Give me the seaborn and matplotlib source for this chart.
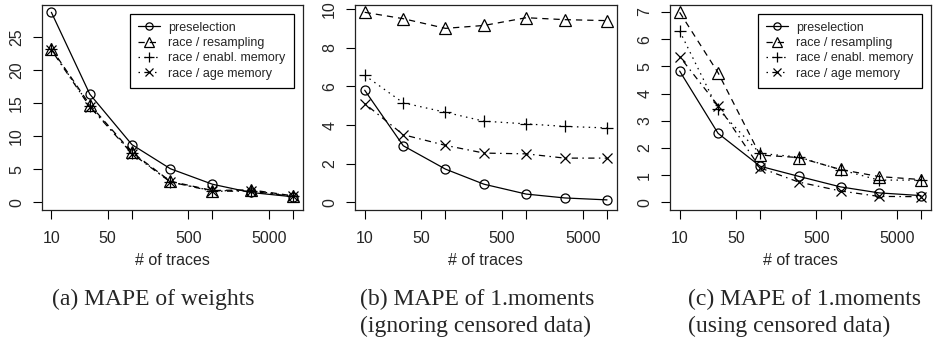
import numpy as np
import pandas as pd
import matplotlib
matplotlib.use('Agg')
import matplotlib.pyplot as plt
import seaborn as sns

# --- DATA ---
traces = [10, 30, 100, 300, 1000, 3000, 10000]
series_names = ['preselection', 'race / resampling', 'race / enabl. memory', 'race / age memory']

# (a) MAPE of weights
weights_presel = [28.8, 16.4, 8.75, 5.1, 2.75, 1.5, 0.85]
weights_resamp = [23.3, 14.8, 7.6, 3.2, 1.8, 1.9, 1.0]
weights_enabl = [23.2, 14.6, 7.5, 3.1, 1.75, 1.8, 0.95]
weights_age = [23.1, 14.5, 7.4, 3.1, 1.7, 1.7, 0.9]

# (b) MAPE of 1.moments, ignoring censored data
ign_presel = [5.8, 2.93, 1.72, 0.94, 0.43, 0.23, 0.13]
ign_resamp = [9.83, 9.5, 9.0, 9.15, 9.55, 9.45, 9.4]
ign_enabl = [6.57, 5.15, 4.66, 4.2, 4.06, 3.93, 3.85]
ign_age = [5.11, 3.5, 2.95, 2.55, 2.51, 2.29, 2.29]

# (c) MAPE of 1.moments, using censored data
use_presel = [4.83, 2.54, 1.33, 0.96, 0.57, 0.35, 0.25]
use_resamp = [6.99, 4.77, 1.74, 1.65, 1.21, 0.95, 0.84]
use_enabl = [6.3, 3.43, 1.8, 1.67, 1.2, 0.82, 0.82]
use_age = [5.36, 3.56, 1.27, 0.75, 0.42, 0.22, 0.21]

panels = [
    [weights_presel, weights_resamp, weights_enabl, weights_age],
    [ign_presel, ign_resamp, ign_enabl, ign_age],
    [use_presel, use_resamp, use_enabl, use_age],
]
y_ticks = [[0, 5, 10, 15, 20, 25], [0, 2, 4, 6, 8, 10], [0, 1, 2, 3, 4, 5, 6, 7]]
x_ticks = [10, 50, 100, 500, 1000, 5000, 10000]
x_ticklabels = ['10', '50', '', '500', '', '5000', '']
show_legend = [True, False, True]
captions = [
    ['(a) MAPE of weights'],
    ['(b) MAPE of 1.moments', '(ignoring censored data)'],
    ['(c) MAPE of 1.moments', '(using censored data)'],
]

# --- STYLE ---
sns.set_style('ticks')
plt.rcParams['font.family'] = ['Liberation Sans', 'DejaVu Sans']
plt.rcParams['axes.linewidth'] = 0.9

markers = ['o', '^', '+', 'x']
marker_sizes = [6.5, 8.5, 9, 7]
line_styles = ['-', (0, (5, 4)), (0, (1.2, 3.5)), (0, (1.2, 3.5, 5, 3.5))]

W, H = 933, 342
fig = plt.figure(figsize=(W / 100, H / 100), dpi=100)
axes_px = [(41.7, 302.7), (355, 616.7), (670, 930.7)]
top_px, bottom_px = 4.7, 210

for i, (x0, x1) in enumerate(axes_px):
    ax = fig.add_axes([x0 / W, 1 - bottom_px / H, (x1 - x0) / W, (bottom_px - top_px) / H])
    # one line per series, all black, told apart by marker and dash pattern
    for k, vals in enumerate(panels[i]):
        sns.lineplot(x=traces, y=vals, ax=ax, color='black', linewidth=0.9,
                     linestyle=line_styles[k], marker=markers[k],
                     markersize=marker_sizes[k], mfc='none', mec='black', mew=0.9,
                     legend=False)
    ax.set_xscale('log')
    ax.set_xlim(10 ** 0.88, 10 ** 4.12)
    ymax = max(max(v) for v in panels[i])
    ax.set_ylim(-0.04 * ymax, 1.04 * ymax)
    ax.set_xticks(x_ticks)
    ax.set_xticklabels(x_ticklabels)
    ax.xaxis.set_minor_locator(matplotlib.ticker.NullLocator())
    ax.set_yticks(y_ticks[i])
    ax.set_yticklabels([str(t) for t in y_ticks[i]], rotation=90, va='center')
    ax.tick_params(axis='both', length=6.8, width=0.8, labelsize=11.5, color='black')
    ax.tick_params(axis='x', pad=8.5)
    ax.tick_params(axis='y', pad=6)
    ax.set_xlabel('# of traces', fontsize=11.5, labelpad=5)
    ax.set_ylabel('')
    for sp in ax.spines.values():
        sp.set_visible(True)
        sp.set_color('#222222')
    if show_legend[i]:
        leg = ax.legend(ax.lines[:4], series_names, loc='upper right', fontsize=9,
                        frameon=True, fancybox=False, framealpha=1, edgecolor='black',
                        handlelength=1.8, handletextpad=0.65, labelspacing=0.26,
                        borderpad=0.65, borderaxespad=0.72, markerscale=0.8)
        leg.get_frame().set_linewidth(0.9)

# captions under the panels
caption_x = [52, 360, 688]
for i, lines in enumerate(captions):
    for j, txt in enumerate(lines):
        fig.text(caption_x[i] / W, 1 - (305 + 27 * j) / H, txt, family='Liberation Serif',
                 fontsize=17, ha='left', va='baseline')

fig.savefig('out.png', dpi=100)
